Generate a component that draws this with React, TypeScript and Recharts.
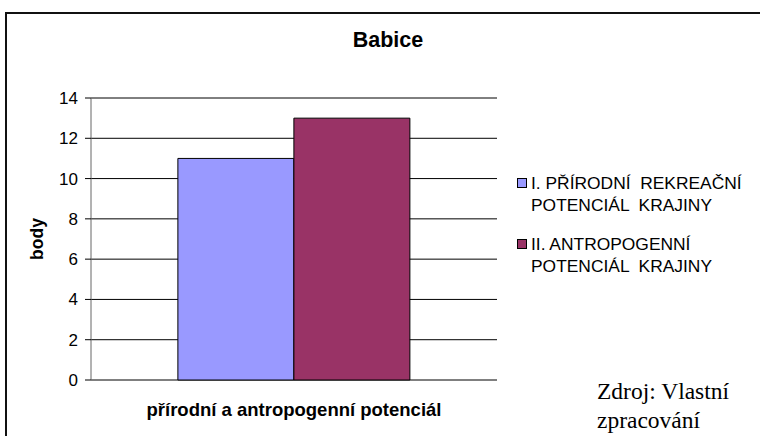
import React from 'react';
import { BarChart, Bar, XAxis, YAxis, CartesianGrid, Legend } from 'recharts';

const categories = ['přírodní a antropogenní potenciál'];
const prirodniValues = [11];
const antropogenniValues = [13];
const yTicks = [0, 2, 4, 6, 8, 10, 12, 14];
const seriesNames = ['I. PŘÍRODNÍ  REKREAČNÍ|POTENCIÁL  KRAJINY', 'II. ANTROPOGENNÍ|POTENCIÁL  KRAJINY'];
const seriesColors = ['#9999FF', '#993366'];

const data = categories.map((c, i) => ({
  name: c,
  prirodni: prirodniValues[i],
  antropogenni: antropogenniValues[i],
}));

const SANS = '"Liberation Sans", Arial, sans-serif';
const SERIF = '"Liberation Serif", "Times New Roman", serif';

const LegendContent = (props: any) => {
  const payload = props.payload || [];
  return (
    <div style={{ fontFamily: SANS, fontSize: 17.4, color: '#000', textAlign: 'left' }}>
      {payload.map((p: any, i: number) => {
        const lines = String(p.value).split('|');
        return (
          <div key={i} style={{ position: 'relative', marginBottom: i === 0 ? 17 : 0, paddingLeft: 14 }}>
            <div
              style={{
                position: 'absolute',
                left: 0,
                top: 6,
                width: 8,
                height: 8,
                background: p.color,
                border: '1px solid #000',
              }}
            />
            {lines.map((l: string, j: number) => (
              <div key={j} style={{ lineHeight: '22px', whiteSpace: 'pre' }}>{l}</div>
            ))}
          </div>
        );
      })}
    </div>
  );
};

export default function App() {
  return (
    <div style={{ position: 'absolute', left: 0, top: 0, width: 760, height: 436, overflow: 'hidden', background: '#fff' }}>
      <div
        style={{
          position: 'absolute',
          left: 5,
          top: 12,
          width: 800,
          height: 500,
          border: '2px solid #111',
          boxSizing: 'border-box',
        }}
      />
      <div style={{ position: 'absolute', left: 0, top: 0 }}>
        <BarChart
          width={760}
          height={436}
          data={data}
          margin={{ top: 98, right: 263, bottom: 56, left: 31 }}
          barCategoryGap="21.4%"
          barGap={0}
        >
          <CartesianGrid vertical={false} stroke="#000" strokeWidth={1} />
          <XAxis dataKey="name" tick={false} tickLine={false} axisLine={{ stroke: '#000' }} height={0} />
          <YAxis
            width={60}
            domain={[0, 14]}
            ticks={yTicks}
            interval={0}
            tick={{ fill: '#000', fontSize: 17, fontFamily: SANS }}
            tickLine={{ stroke: '#000' }}
            tickSize={6}
            tickMargin={7}
            axisLine={{ stroke: '#666' }}
          />
          <YAxis
            yAxisId="r"
            orientation="right"
            width={0}
            tick={false}
            tickLine={false}
            axisLine={{ stroke: '#888' }}
          />
          <Legend
            content={<LegendContent />}
            layout="vertical"
            align="center"
            verticalAlign="middle"
            wrapperStyle={{ position: 'absolute', left: 517, top: 172, width: 243 }}
          />
          <Bar dataKey="prirodni" name={seriesNames[0]} fill={seriesColors[0]} stroke="#000" strokeWidth={1} isAnimationActive={false} />
          <Bar dataKey="antropogenni" name={seriesNames[1]} fill={seriesColors[1]} stroke="#000" strokeWidth={1} isAnimationActive={false} />
        </BarChart>
      </div>
      <div style={{ position: 'absolute', left: 288, width: 200, top: 30, lineHeight: '21.5px', textAlign: 'center', fontFamily: SANS, fontWeight: 'bold', fontSize: 21.5, color: '#000' }}>
        Babice
      </div>
      <div style={{ position: 'absolute', left: 91, width: 406, top: 401, lineHeight: '18.5px', textAlign: 'center', fontFamily: SANS, fontWeight: 'bold', fontSize: 18.5, color: '#000', whiteSpace: 'nowrap' }}>
        {categories[0]}
      </div>
      <div
        style={{
          position: 'absolute',
          left: 37,
          top: 239,
          transform: 'translate(-50%, -50%) rotate(-90deg)',
          fontFamily: SANS,
          fontWeight: 'bold',
          fontSize: 17.5,
          color: '#000',
          whiteSpace: 'nowrap',
        }}
      >
        body
      </div>
      <div style={{ position: 'absolute', left: 597, top: 380, fontFamily: SERIF, fontSize: 23.5, color: '#000', whiteSpace: 'nowrap' }}>
        <div style={{ lineHeight: '23.5px' }}>Zdroj: Vlastní</div>
        <div style={{ lineHeight: '23.5px', marginTop: 5.5 }}>zpracování</div>
      </div>
    </div>
  );
}
